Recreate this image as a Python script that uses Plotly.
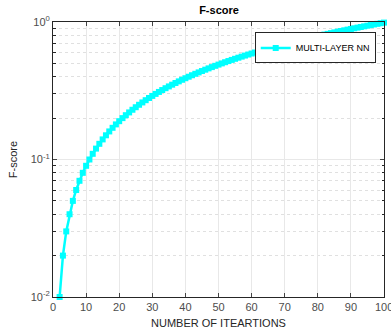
import plotly.graph_objects as go

iterations = list(range(2, 101))
fscore = [0.01, 0.02, 0.03, 0.04, 0.05, 0.06, 0.07, 0.08, 0.09, 0.10,
          0.11, 0.12, 0.13, 0.14, 0.15, 0.16, 0.17, 0.18, 0.19, 0.20,
          0.21, 0.22, 0.23, 0.24, 0.25, 0.26, 0.27, 0.28, 0.29, 0.30,
          0.31, 0.32, 0.33, 0.34, 0.35, 0.36, 0.37, 0.38, 0.39, 0.40,
          0.41, 0.42, 0.43, 0.44, 0.45, 0.46, 0.47, 0.48, 0.49, 0.50,
          0.51, 0.52, 0.53, 0.54, 0.55, 0.56, 0.57, 0.58, 0.59, 0.60,
          0.61, 0.62, 0.63, 0.64, 0.65, 0.66, 0.67, 0.68, 0.69, 0.70,
          0.71, 0.72, 0.73, 0.74, 0.75, 0.76, 0.77, 0.78, 0.79, 0.80,
          0.81, 0.82, 0.83, 0.84, 0.85, 0.86, 0.87, 0.88, 0.89, 0.90,
          0.91, 0.92, 0.93, 0.94, 0.95, 0.96, 0.97, 0.98, 0.99]
x_ticks = [0, 10, 20, 30, 40, 50, 60, 70, 80, 90, 100]
x_tick_labels = ["0", "10", "20", "30", "40", "50", "60", "70", "80", "90", "100"]
y_ticks = [0.01, 0.1, 1]
y_tick_labels = ["10<sup>-2</sup>", "10<sup>-1</sup>", "10<sup>0</sup>"]

W = 391
fig = go.Figure()
fig.add_trace(go.Scatter(
    x=iterations, y=fscore, mode="lines+markers", name="MULTI-LAYER NN",
    line=dict(color="#00ffff", width=2.5),
    marker=dict(symbol="square", size=6, color="#00ffff"),
    cliponaxis=False,
))

font = "Liberation Sans, Arial, sans-serif"
tickfont = dict(family=font, size=11, color="#4d4d4d")
fig.update_layout(
    width=W, height=334,
    margin=dict(l=53, r=W - 385, t=22, b=33),
    paper_bgcolor="white", plot_bgcolor="white",
    font=dict(family=font, size=11, color="#262626"),
    title=dict(text="<b>F-score</b>", x=(53 + 385) / 2 / W, xanchor="center",
               y=1 - 10 / 334, yanchor="middle", font=dict(size=11, color="black")),
    showlegend=True,
    legend=dict(x=0.975, y=0.962, xanchor="right", yanchor="top",
                bgcolor="white", bordercolor="#262626", borderwidth=1,
                font=dict(size=9, color="black"), itemwidth=30,
                tracegroupgap=0),
)
# last x tick label drawn as annotation so it may run past the page edge
fig.add_annotation(x=x_ticks[-1], y=0, xref="x", yref="paper", text=x_tick_labels[-1],
                   showarrow=False, xanchor="center", yanchor="top", yshift=-2,
                   font=tickfont)
fig.update_xaxes(
    range=[0, 100], tickvals=x_ticks, ticktext=x_tick_labels[:-1] + [""],
    ticks="inside", ticklen=4,
    showline=True, linecolor="#262626", linewidth=1, mirror="ticks",
    showgrid=True, gridcolor="#e8e8e8", gridwidth=1, zeroline=False,
    title=dict(text="NUMBER OF ITEARTIONS", standoff=7, font=dict(size=11)),
    tickfont=tickfont,
)
fig.update_yaxes(
    type="log", range=[-2, 0], tickvals=y_ticks, ticktext=y_tick_labels,
    ticks="inside", ticklen=4,
    showline=True, linecolor="#262626", linewidth=1, mirror="ticks",
    showgrid=True, gridcolor="#e8e8e8", gridwidth=1, zeroline=False,
    minor=dict(ticks="inside", ticklen=2.5, tickcolor="#262626", showgrid=True,
               gridcolor="#e0e0e0", griddash="dot", dtick="D1"),
    title=dict(text="F-score", standoff=10, font=dict(size=11)),
    tickfont=tickfont,
)
fig.write_html("out.html", config={"displayModeBar": False},
               post_script="document.body.style.margin='0';document.body.style.overflow='hidden';")
